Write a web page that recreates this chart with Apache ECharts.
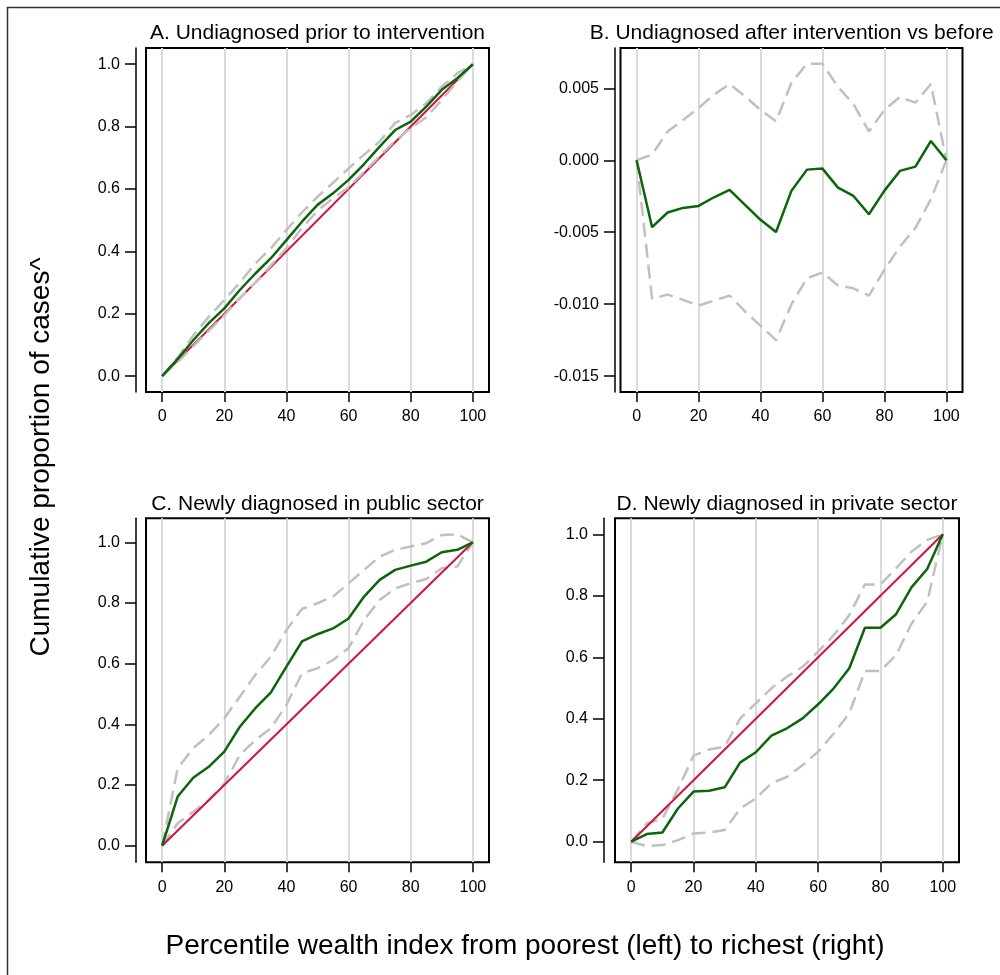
<!DOCTYPE html>
<html><head><meta charset="utf-8">
<script src="https://cdn.jsdelivr.net/npm/echarts@6/dist/echarts.min.js"></script>
<style>html,body{margin:0;padding:0;background:#fff}#c{width:1000px;height:975px}</style>
</head><body><div id="c"></div>
<script>
// ---- data ----
const percentile = [0,5,10,15,20,25,30,35,40,45,50,55,60,65,70,75,80,85,90,95,100];
const xTicks = [0,20,40,60,80,100];
const propTicks = [0,0.2,0.4,0.6,0.8,1.0];
const diffTicks = [-0.015,-0.010,-0.005,0,0.005];
const equalityX = [0,100];
const equalityY = [0,1];

const aEst   = [0,0.055,0.115,0.170,0.217,0.276,0.329,0.378,0.436,0.495,0.549,0.586,0.629,0.680,0.736,0.789,0.816,0.864,0.918,0.955,1.0];
const aUpper = [0,0.060,0.130,0.190,0.244,0.300,0.361,0.410,0.468,0.525,0.575,0.620,0.666,0.710,0.752,0.812,0.837,0.875,0.928,0.971,1.0];
const aLower = [0,0.045,0.095,0.145,0.195,0.250,0.300,0.355,0.410,0.475,0.530,0.570,0.605,0.655,0.705,0.755,0.795,0.830,0.885,0.945,1.0];

const bEst   = [0,-0.00465,-0.00363,-0.00331,-0.00317,-0.00257,-0.00206,-0.00310,-0.00414,-0.00498,-0.00211,-0.00065,-0.00058,-0.00190,-0.00248,-0.00375,-0.00211,-0.00074,-0.00044,0.00134,0];
const bUpper = [0,0.0004,0.0020,0.0028,0.00363,0.00456,0.0053,0.00444,0.0035,0.0027,0.0054,0.0067,0.0067,0.0051,0.0039,0.0020,0.0035,0.0044,0.0040,0.0053,0];
const bLower = [0,-0.00963,-0.00933,-0.0097,-0.0101,-0.00975,-0.0094,-0.0105,-0.0115,-0.0125,-0.0100,-0.0082,-0.0078,-0.0087,-0.0089,-0.0094,-0.0076,-0.0060,-0.0047,-0.0027,0];

const cEst   = [0,0.162,0.224,0.260,0.310,0.392,0.453,0.505,0.590,0.673,0.697,0.716,0.749,0.821,0.876,0.909,0.923,0.936,0.967,0.975,1.0];
const cUpper = [0,0.255,0.321,0.365,0.420,0.491,0.563,0.623,0.711,0.780,0.799,0.821,0.865,0.909,0.953,0.975,0.986,0.997,1.024,1.026,1.0];
const cLower = [0,0.074,0.112,0.150,0.205,0.299,0.348,0.387,0.464,0.568,0.585,0.612,0.651,0.744,0.810,0.848,0.865,0.879,0.914,0.920,1.0];

const dEst   = [0,0.025,0.030,0.108,0.163,0.166,0.177,0.258,0.291,0.345,0.369,0.401,0.447,0.499,0.564,0.696,0.696,0.740,0.828,0.887,1.0];
const dUpper = [0,0.060,0.074,0.170,0.280,0.300,0.309,0.401,0.450,0.499,0.537,0.569,0.618,0.672,0.737,0.837,0.837,0.889,0.944,0.982,1.0];
const dLower = [0,-0.014,-0.011,0.005,0.027,0.030,0.038,0.108,0.141,0.190,0.211,0.249,0.293,0.352,0.418,0.555,0.555,0.607,0.710,0.781,1.0];

const titles = ['A. Undiagnosed prior to intervention','B. Undiagnosed after intervention vs before','C. Newly diagnosed in public sector','D. Newly diagnosed in private sector'];
const yTitle = 'Cumulative proportion of cases^';
const xTitle = 'Percentile wealth index from poorest (left) to richest (right)';

// ---- layout / style ----
const FF = '"Liberation Sans", Arial, Helvetica, sans-serif';
const GREEN = '#0b650b', RED = '#d0143c', GREYD = '#c0c0c0', GRID = '#dadada';
const grids = [
  {left:146, top:48, width:343, height:344},
  {left:620.5, top:48, width:342, height:344},
  {left:146, top:518.3, width:343, height:344},
  {left:615, top:518.3, width:344, height:344}
];
const yRanges = [[-0.051,1.052],[-0.0161,0.0078],[-0.0547,1.079],[-0.067,1.052]];
const yOffsets = [10,5.5,10,11];
const yTicksList = [propTicks,diffTicks,propTicks,propTicks];
const yDec = [1,3,1,1];

const pairs = (xs,ys)=>xs.map((x,i)=>[x,ys[i]]);
function line(gi, xs, ys, color, width, type, z){
  return {type:'line', xAxisIndex:gi, yAxisIndex:gi, data:pairs(xs,ys), symbol:'none', silent:true,
    lineStyle:{color:color, width:width, type:type}, z:z, animation:false};
}

const xAxes = grids.map((g,i)=>({
  type:'value', gridIndex:i, min:-5.2, max:105.2, position:'bottom',
  axisLine:{show:false, onZero:false},
  axisTick:{show:true, length:10, customValues:xTicks, lineStyle:{color:'#000', width:1.5}},
  axisLabel:{customValues:xTicks, fontSize:16, color:'#000', fontFamily:FF, margin:17},
  splitLine:{show:true, lineStyle:{color:GRID, width:2}}
}));
const yAxes = grids.map((g,i)=>({
  type:'value', gridIndex:i, min:yRanges[i][0], max:yRanges[i][1], position:'left', offset:yOffsets[i],
  axisLine:{show:true, onZero:false, lineStyle:{color:'#000', width:1.5}},
  axisTick:{show:true, length:11, customValues:yTicksList[i], lineStyle:{color:'#000', width:1.5}},
  axisLabel:{customValues:yTicksList[i], fontSize:16, color:'#000', fontFamily:FF, margin:16,
    formatter:(v)=>Number(v).toFixed(yDec[i])},
  splitLine:{show:false}
}));

const dash = [14,7];
const series = [
  line(0, equalityX, equalityY, RED, 2, 'solid', 2),
  line(0, percentile, aUpper, GREYD, 2.5, dash, 3),
  line(0, percentile, aLower, GREYD, 2.5, dash, 3),
  line(0, percentile, aEst, GREEN, 2.5, 'solid', 4),
  line(1, percentile, bUpper, GREYD, 2.5, dash, 3),
  line(1, percentile, bLower, GREYD, 2.5, dash, 3),
  line(1, percentile, bEst, GREEN, 2.5, 'solid', 4),
  line(2, percentile, cUpper, GREYD, 2.5, dash, 2),
  line(2, percentile, cLower, GREYD, 2.5, dash, 2),
  line(2, equalityX, equalityY, RED, 2, 'solid', 3),
  line(2, percentile, cEst, GREEN, 2.5, 'solid', 4),
  line(3, percentile, dUpper, GREYD, 2.5, dash, 2),
  line(3, percentile, dLower, GREYD, 2.5, dash, 2),
  line(3, equalityX, equalityY, RED, 2, 'solid', 3),
  line(3, percentile, dEst, GREEN, 2.5, 'solid', 4)
];

const titlePos = [[317.5,33.5],[791.7,33.5],[317.5,504],[787,504]];
const graphic = [
  {type:'rect', silent:true, shape:{x:7.5,y:7.5,width:1300,height:1300}, style:{fill:'none', stroke:'#333', lineWidth:1.5}},
  ...titles.map((t,i)=>({type:'text', silent:true, x:titlePos[i][0], y:titlePos[i][1],
     style:{text:t, align:'center', verticalAlign:'middle', textAlign:'center', textVerticalAlign:'middle', fontSize:21, fontFamily:FF, fill:'#000'}})),
  {type:'text', silent:true, x:525, y:946, style:{text:xTitle, align:'center', verticalAlign:'middle', textAlign:'center', textVerticalAlign:'middle', fontSize:28, fontFamily:FF, fill:'#000'}},
  {type:'text', silent:true, x:41, y:457, rotation:Math.PI/2, style:{text:yTitle, align:'center', verticalAlign:'middle', textAlign:'center', textVerticalAlign:'middle', fontSize:28, fontFamily:FF, fill:'#000'}}
];

const chart = echarts.init(document.getElementById('c'), null, {renderer:'canvas'});
chart.setOption({
  animation:false,
  backgroundColor:'#fff',
  grid: grids.map(g=>Object.assign({show:true, borderColor:'#000', borderWidth:2, backgroundColor:'transparent', containLabel:false}, g)),
  xAxis:xAxes, yAxis:yAxes, series:series, graphic:graphic
});
</script></body></html>
